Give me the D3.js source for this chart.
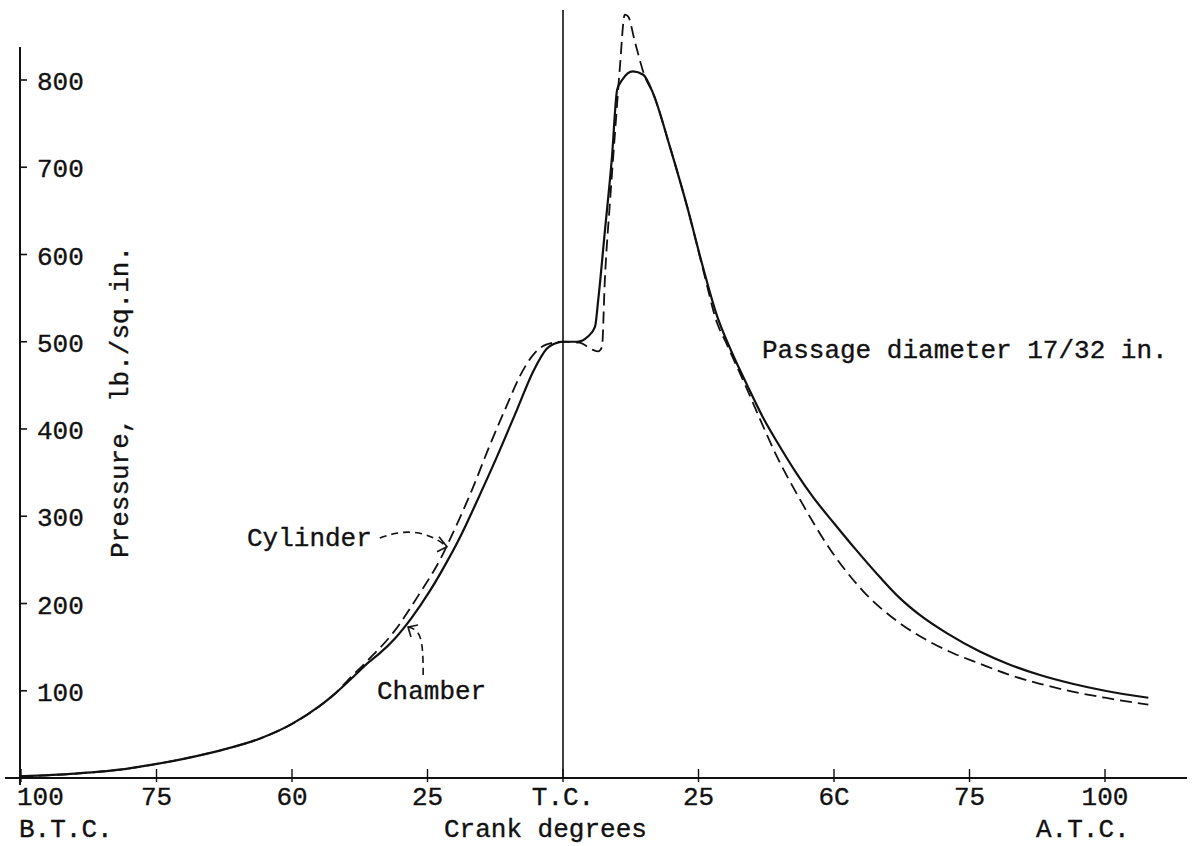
<!DOCTYPE html>
<html><head><meta charset="utf-8">
<script src="https://cdn.jsdelivr.net/npm/d3@7"></script>
<style>
html,body{margin:0;padding:0;background:#fff;}
text{font-family:"Liberation Mono","Courier New",monospace;fill:#111;stroke:#111;stroke-width:0.35px;}
</style></head>
<body><svg id="c" width="1193" height="846"></svg>
<script>
// ---- data (crank degrees: negative = B.T.C., positive = A.T.C.; pressure lb./sq.in.) ----
const chamberDeg = [-100,-90,-80,-76,-70,-63,-56,-50,-45,-42,-38,-36,-34,-31,-28,-24.5,-21.4,-19,-15.9,-12.2,-8.5,-5.5,-3,-1,0,
  2.6,4.6,5.9,6.5,7.7,9,10,10.9,12.9,14.8,16.6,19.7,22.9,25.8,28.4,31,34,37,40,43,46,50,54,58.5,62,66,70.8,76.9,82,88,94,100,108];
const chamberPsi = [2,5,11,15,22,32,45,62,82,97,120,132,142,160,183,215,248,276,317,368,422,466,492,499,500,
  500,506,517,548,625,709,789,800,810,806,785,724,655,586,530,490,450,412,380,350,323,292,262,230,207,186,166,145,131,118,108,100,92];
const cylinderDeg = [-100,-90,-80,-76,-70,-63,-56,-50,-45,-42,-40,-36,-31.4,-26.4,-22.7,-20.3,-17,-13.4,-10.3,-8,-5.5,-3,0,
  3,5.4,6.5,7.2,7.7,8.7,9.6,10.5,11.4,12,13.3,15.1,16.6,19.7,22.9,25.8,28.4,30,33.5,36.3,39.5,43.2,49.3,55.4,61.6,67.7,72,76.9,82,88,94,100,108];
const cylinderPsi = [2,5,11,15,22,32,45,62,82,97,110,135,166,212,250,281,327,383,428,460,485,497,500,
  499,491,489,494,568,663,740,815,875,873,843,804,785,724,655,584,522,500,452,412,368,325,262,214,180,156,143,131,119,108,99,92,84];
const xTickValues = [-100,-75,-50,-25,0,25,50,75,100];
const xTickLabels = ["100","75","60","25","T.C.","25","6C","75","100"];
const yTickValues = [100,200,300,400,500,600,700,800];
const yTickLabels = ["100","200","300","400","500","600","700","800"];

const svg = d3.select("#c");
const x = d3.scaleLinear().domain([-100,100]).range([21,1105]);
const y = d3.scaleLinear().domain([0,800]).range([778,80]);
const ink = "#111";

// axes lines
svg.append("line").attr("x1",5).attr("x2",1187).attr("y1",y(0)).attr("y2",y(0))
  .attr("stroke",ink).attr("stroke-width",2.2);
svg.append("line").attr("x1",20).attr("x2",20).attr("y1",47).attr("y2",785)
  .attr("stroke",ink).attr("stroke-width",2);
// T.C. vertical line
svg.append("line").attr("x1",x(0)).attr("x2",x(0)).attr("y1",10).attr("y2",y(0))
  .attr("stroke",ink).attr("stroke-width",1.6);

// y ticks
const gy = svg.append("g");
yTickValues.forEach((v,i)=>{
  gy.append("line").attr("x1",20).attr("x2",27).attr("y1",y(v)).attr("y2",y(v))
    .attr("stroke",ink).attr("stroke-width",1.6);
  gy.append("text").attr("x",37).attr("y",y(v)+10).attr("font-size",26).text(yTickLabels[i]);
});

// x ticks
const gx = svg.append("g");
xTickValues.forEach((v,i)=>{
  gx.append("line").attr("x1",x(v)).attr("x2",x(v)).attr("y1",y(0)-9).attr("y2",y(0)+4)
    .attr("stroke",ink).attr("stroke-width",1.4);
  const t = gx.append("text").attr("y",805).attr("font-size",26).text(xTickLabels[i]);
  if(i===0) t.attr("x",17); else t.attr("x",x(v)).attr("text-anchor","middle");
});

svg.append("text").attr("x",19).attr("y",837).attr("font-size",26).text("B.T.C.");
svg.append("text").attr("x",444).attr("y",837).attr("font-size",26).text("Crank degrees");
svg.append("text").attr("x",1036).attr("y",837).attr("font-size",26).text("A.T.C.");

// y label
svg.append("text").attr("transform","translate(128,402) rotate(-90)")
  .attr("text-anchor","middle").attr("font-size",26).text("Pressure, lb./sq.in.");

// curves
const line = d3.line().x(d=>x(d[0])).y(d=>y(d[1])).curve(d3.curveMonotoneX);
const chamber = chamberDeg.map((d,i)=>[d,chamberPsi[i]]);
const cylinder = cylinderDeg.map((d,i)=>[d,cylinderPsi[i]]);
svg.append("path").datum(cylinder).attr("d",line).attr("fill","none")
  .attr("stroke",ink).attr("stroke-width",1.8).attr("stroke-dasharray","12,6");
svg.append("path").datum(chamber).attr("d",line).attr("fill","none")
  .attr("stroke",ink).attr("stroke-width",2.2);

// annotations
svg.append("text").attr("x",762).attr("y",358).attr("font-size",26).text("Passage diameter 17/32 in.");
svg.append("text").attr("x",247).attr("y",546).attr("font-size",26).text("Cylinder");
svg.append("text").attr("x",377).attr("y",699).attr("font-size",26).text("Chamber");

const px = (d,p)=>[x(d),y(p)];
const cylArrow = d3.path();
let a = px(-33.8,275), c1 = px(-28.5,288), c2 = px(-24.5,281), e = px(-21.4,265);
cylArrow.moveTo(...a); cylArrow.bezierCurveTo(...c1,...c2,...e);
svg.append("path").attr("d",cylArrow.toString()).attr("fill","none").attr("stroke",ink)
  .attr("stroke-width",1.6).attr("stroke-dasharray","7,5");
svg.append("path").attr("d",`M${e[0]-8},${e[1]-10}L${e[0]},${e[1]}L${e[0]-10},${e[1]+5}`)
  .attr("fill","none").attr("stroke",ink).attr("stroke-width",1.6);

const chArrow = d3.path();
let b = px(-25.8,118), b1 = px(-25.8,160), b2 = px(-26.2,170), f = px(-28.6,173);
chArrow.moveTo(...b); chArrow.bezierCurveTo(...b1,...b2,...f);
svg.append("path").attr("d",chArrow.toString()).attr("fill","none").attr("stroke",ink)
  .attr("stroke-width",1.6).attr("stroke-dasharray","7,5");
svg.append("path").attr("d",`M${f[0]+10},${f[1]-2}L${f[0]},${f[1]}L${f[0]+3},${f[1]+10}`)
  .attr("fill","none").attr("stroke",ink).attr("stroke-width",1.6);
</script></body></html>
